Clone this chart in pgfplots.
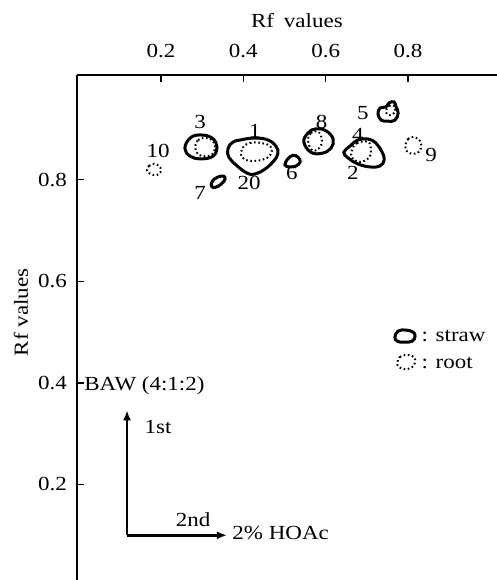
\documentclass[border=0pt]{standalone}
\usepackage{fontspec}
\setmainfont{Liberation Serif}[FakeStretch=1.15]
\usepackage{pgfplots}
\pgfplotsset{compat=1.18}
\usetikzlibrary{arrows.meta}
\begin{document}
\fontsize{10}{12}\selectfont
\begin{tikzpicture}[font=\fontsize{10}{12}\selectfont]
\begin{axis}[
  scale only axis, width=210pt, height=252.5pt,
  xmin=-0.004, xmax=1.016, ymin=0.012, ymax=1.006,
  axis x line=top, axis y line=left,
  axis line style={-, line width=0.7pt},
  xtick={0.2,0.4,0.6,0.8}, ytick={0.2,0.4,0.6,0.8},
  tick align=inside, major tick length=3.5pt,
  tick style={line width=0.7pt, black},
  xticklabel style={yshift=5pt},
  yticklabel style={xshift=-1.5pt},
  /pgf/number format/assume math mode=true,
  /pgf/number format/fixed, /pgf/number format/precision=1,
  clip=false,
  solidspot/.style={black, line width=1.5pt, smooth cycle, tension=0.7, mark=none},
  dotspot/.style={black, line width=1.0pt, dash pattern=on 0.8pt off 1.3pt, smooth cycle, tension=0.7, mark=none},
]
\coordinate (bl) at (rel axis cs:0,0);
\coordinate (tr) at (rel axis cs:1,1);
% spot 3
\addplot[solidspot] coordinates {(0.258,0.862)(0.271,0.882)(0.295,0.888)(0.324,0.882)(0.336,0.864)(0.326,0.846)(0.297,0.841)(0.271,0.846)};
\addplot[dotspot] coordinates {(0.283,0.864)(0.290,0.878)(0.307,0.882)(0.324,0.878)(0.331,0.864)(0.324,0.850)(0.307,0.846)(0.290,0.850)};
% spot 1 / 20
\addplot[solidspot] coordinates {(0.392,0.878)(0.428,0.882)(0.460,0.878)(0.479,0.866)(0.484,0.852)(0.474,0.837)(0.453,0.821)(0.428,0.811)(0.409,0.813)(0.385,0.827)(0.365,0.844)(0.363,0.862)(0.375,0.874)};
\addplot[dotspot] coordinates {(0.397,0.862)(0.416,0.872)(0.445,0.872)(0.467,0.864)(0.465,0.848)(0.445,0.839)(0.416,0.837)(0.397,0.844)};
% spot 7
\addplot[solidspot] coordinates {(0.322,0.791)(0.329,0.801)(0.346,0.807)(0.355,0.805)(0.353,0.797)(0.339,0.787)(0.326,0.785)};
% spot 6
\addplot[solidspot] coordinates {(0.501,0.829)(0.508,0.841)(0.521,0.848)(0.533,0.844)(0.538,0.835)(0.528,0.827)(0.513,0.825)};
% spot 8
\addplot[solidspot] coordinates {(0.547,0.874)(0.557,0.892)(0.576,0.900)(0.601,0.896)(0.618,0.880)(0.613,0.862)(0.591,0.852)(0.564,0.854)};
\addplot[dotspot] coordinates {(0.557,0.878)(0.564,0.892)(0.582,0.894)(0.591,0.878)(0.584,0.862)(0.567,0.858)};
% spot 4 / 2
\addplot[solidspot] coordinates {(0.659,0.866)(0.678,0.878)(0.703,0.880)(0.722,0.872)(0.737,0.854)(0.742,0.839)(0.732,0.827)(0.708,0.825)(0.678,0.831)(0.654,0.843)(0.644,0.854)};
\addplot[dotspot] coordinates {(0.664,0.858)(0.676,0.872)(0.703,0.874)(0.710,0.858)(0.705,0.843)(0.683,0.835)(0.664,0.843)};
% spot 5
\addplot[solidspot] coordinates {(0.727,0.929)(0.732,0.941)(0.746,0.943)(0.754,0.951)(0.766,0.953)(0.771,0.943)(0.776,0.931)(0.768,0.917)(0.751,0.915)(0.735,0.917)};
\addplot[dotspot] coordinates {(0.746,0.933)(0.754,0.945)(0.766,0.945)(0.768,0.933)(0.756,0.927)};
% spot 9
\addplot[dotspot] coordinates {(0.793,0.866)(0.800,0.880)(0.814,0.884)(0.829,0.876)(0.831,0.862)(0.822,0.852)(0.805,0.852)(0.795,0.858)};
% spot 10
\addplot[dotspot] coordinates {(0.166,0.819)(0.171,0.827)(0.183,0.831)(0.195,0.827)(0.200,0.819)(0.195,0.811)(0.183,0.809)(0.171,0.813)};
% legend symbols
\addplot[solidspot] coordinates {(0.768,0.490)(0.776,0.502)(0.795,0.504)(0.812,0.500)(0.817,0.492)(0.810,0.482)(0.790,0.480)(0.774,0.482)};
\addplot[dotspot] coordinates {(0.774,0.439)(0.780,0.451)(0.798,0.455)(0.814,0.451)(0.817,0.441)(0.810,0.431)(0.793,0.427)(0.778,0.431)};
\node[anchor=west, inner sep=0pt] at (axis cs:0.832,0.492) {: straw};
\node[anchor=west, inner sep=0pt] at (axis cs:0.832,0.439) {: root};
% spot labels
\node at (axis cs:0.295,0.913) {3};
\node at (axis cs:0.428,0.896) {1};
\node at (axis cs:0.193,0.857) {10};
\node at (axis cs:0.295,0.774) {7};
\node at (axis cs:0.414,0.793) {20};
\node at (axis cs:0.518,0.813) {6};
\node at (axis cs:0.590,0.914) {8};
\node at (axis cs:0.678,0.889) {4};
\node at (axis cs:0.666,0.813) {2};
\node at (axis cs:0.690,0.931) {5};
\node at (axis cs:0.856,0.848) {9};
% solvent arrows
\addplot[black, line width=1.4pt, -{Latex[length=5pt,width=4pt]}] coordinates {(0.1175,0.100)(0.1175,0.346)};
\addplot[black, line width=1.4pt, -{Latex[length=5pt,width=4pt]}] coordinates {(0.1175,0.100)(0.360,0.100)};
\node at (axis cs:0.193,0.313) {1st};
\node at (axis cs:0.278,0.130) {2nd};
\node[anchor=west, inner sep=0pt] at (axis cs:0.3725,0.104) {2\% HOAc};
\node[anchor=west, inner sep=0pt] at (axis cs:0.013,0.394) {BAW (4:1:2)};
% axis titles
\node at (axis cs:0.530,1.114) {Rf\enspace values};
\node[rotate=90] at (axis cs:-0.140,0.539) {Rf values};
\end{axis}
\pgfresetboundingbox
\path[use as bounding box] ([xshift=-38.5pt]bl) rectangle ([yshift=37.5pt]tr);
\end{tikzpicture}
\end{document}
